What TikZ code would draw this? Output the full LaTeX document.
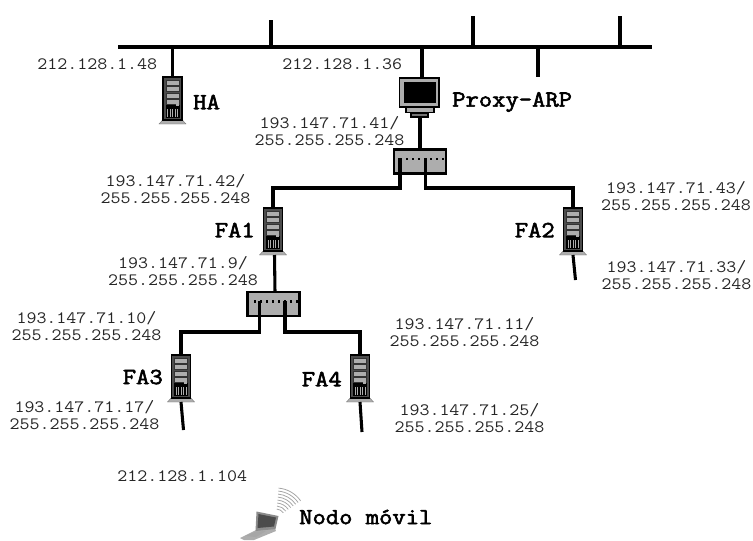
\documentclass[tikz,border=0pt]{standalone}
\usepackage{fontspec}
\setmainfont[FakeStretch=1.12]{Latin Modern Mono}
\newfontfamily\labfont[FakeStretch=1.12,FakeBold=2.5]{Latin Modern Mono}
\definecolor{srv}{gray}{0.68}
\tikzset{
  x=0.75pt,y=-0.75pt,
  wire/.style={line width=2.3pt,line cap=butt,line join=miter},
  addr/.style={font=\fontsize{13}{12.8}\selectfont,align=center,inner sep=0pt,text=black!85},
  lab/.style={font=\fontsize{17.3}{18}\selectfont\labfont,inner sep=0pt},
  server/.pic={
    \fill[srv,draw=srv!70!black,line width=.3pt] (-13.5,47)--(-9,42)--(9,42)--(13.5,47)--cycle;
    \fill[black!70,draw=black,line width=1.4pt] (-9.5,0) rectangle (9.5,43);
    \foreach \yy in {3,9.5,16,22}{\fill[srv,draw=black!80,line width=.3pt] (-6.5,\yy) rectangle (6.5,\yy+5);}
    \fill[black] (-7,28) rectangle (7,41);
    \foreach \xx in {-5.5,-3,-.5,2,4.5}{\fill[srv] (\xx,31.5) rectangle (\xx+1.3,40);}
    \fill[srv] (3,26) rectangle (6,29);
    \coordinate (-top) at (0,0);
    \coordinate (-bot) at (0,47);
  },
  hub/.pic={
    \fill[srv,draw=black,line width=1.6pt] (0,0) rectangle (52,24);
    \foreach \xx in {6,12,...,48}{\fill[black] (\xx,8) rectangle (\xx+2.2,10.5);}
  }
}
\begin{document}
\begin{tikzpicture}
\useasboundingbox (0,0) rectangle (753,540);
% backbone
\coordinate (busL) at (118,47);
\coordinate (busR) at (652,47);
\draw[wire] (busL)--(busR);
\foreach \xx/\ya in {271/20,473/16,620/16,538/77}{\draw[wire] (\xx,47)--(\xx,\ya);}
% devices
\pic (ha) at (172.5,77) {server};
\pic (fa1) at (273,208) {server};
\pic (fa2) at (573,208) {server};
\pic (fa3) at (181,355) {server};
\pic (fa4) at (360,355) {server};
\pic (sw1) at (394,149.5) {hub};
\pic (sw2) at (247.5,292) {hub};
\coordinate (s1t) at (420,149.5);
\coordinate (s1a) at (400,158);
\coordinate (s1b) at (425.5,158);
\coordinate (s2t) at (275,292);
\coordinate (s2a) at (259.5,301);
\coordinate (s2b) at (285,301);
% monitor
\fill[srv,draw=black,line width=1pt] (406,107) rectangle (434,112.5);
\fill[black!55,draw=black,line width=.8pt] (411,113.5) rectangle (428,117);
\fill[srv,draw=black,line width=1.3pt] (399.5,78) rectangle (439,107);
\fill[black] (404,82) rectangle (436,103);
\coordinate (mtop) at (422,78);
\coordinate (mbot) at (420,117);
\coordinate (busA) at (422,47);
\coordinate (busH) at (172.5,47);
% connectors
\draw[wire] (busH)--(ha-top);
\draw[wire] (busA)--(mtop);
\draw[wire] (mbot)--(s1t);
\draw[wire] (s1a)|-(273,188)--(fa1-top);
\draw[wire] (s1b)|-(573,188)--(fa2-top);
\coordinate (f1b) at (274.5,255);
\draw[wire] (f1b)--(s2t);
\draw[wire] (s2a)|-(181,332)--(fa3-top);
\draw[wire] (s2b)|-(360,332)--(fa4-top);
\coordinate (t2) at (575.5,280);
\coordinate (t3) at (183.5,430);
\coordinate (t4) at (362,432);
\draw[wire] (fa2-bot)--(t2);
\draw[wire] (fa3-bot)--(t3);
\draw[wire] (fa4-bot)--(t4);
% laptop
\fill[srv] (240,538)--(256,530)--(275,528)--(276,531)--(254,540)--(244,540)--cycle;
\fill[black!45] (256.5,511.5)--(255.5,531)--(275.5,529)--(278.5,516)--cycle;
\fill[black!70] (258.5,514)--(257.5,528)--(274,526.5)--(276,517.5)--cycle;
\fill[black!35] (245,536)--(256,531.5)--(266,531)--(256,537)--cycle;
\foreach \rr in {9,12,15,18,21,24,27,30}{\draw[black!35,line width=.6pt] (276,518)++(-85:\rr) arc[start angle=-85,end angle=-35,radius=\rr];}
% labels
\node[addr,anchor=west] (a1) at (37,64) {212.128.1.48};
\node[addr,anchor=west] (a2) at (282,64) {212.128.1.36};
\node[lab,anchor=west] (l1) at (193,102) {HA};
\node[lab,anchor=west] (l2) at (452,102) {Proxy-ARP};
\node[addr] (a3) at (329.5,131) {193.147.71.41/\\255.255.255.248};
\node[addr] (a4) at (175.5,189) {193.147.71.42/\\255.255.255.248};
\node[addr] (a5) at (676,196) {193.147.71.43/\\255.255.255.248};
\node[addr] (a6) at (676.5,275) {193.147.71.33/\\255.255.255.248};
\node[addr] (a7) at (183,271) {193.147.71.9/\\255.255.255.248};
\node[addr] (a8) at (86.5,326) {193.147.71.10/\\255.255.255.248};
\node[addr] (a9) at (464.5,332) {193.147.71.11/\\255.255.255.248};
\node[addr] (a10) at (84.5,415) {193.147.71.17/\\255.255.255.248};
\node[addr] (a11) at (469.5,418) {193.147.71.25/\\255.255.255.248};
\node[addr,anchor=west] (a12) at (117,476) {212.128.1.104};
\node[lab,anchor=east] (l3) at (255,230) {FA1};
\node[lab,anchor=east] (l4) at (555,230) {FA2};
\node[lab,anchor=east] (l5) at (163,377) {FA3};
\node[lab,anchor=east] (l6) at (342,379) {FA4};
\node[lab,anchor=west] (l7) at (299,517) {Nodo móvil};
\end{tikzpicture}
\end{document}
